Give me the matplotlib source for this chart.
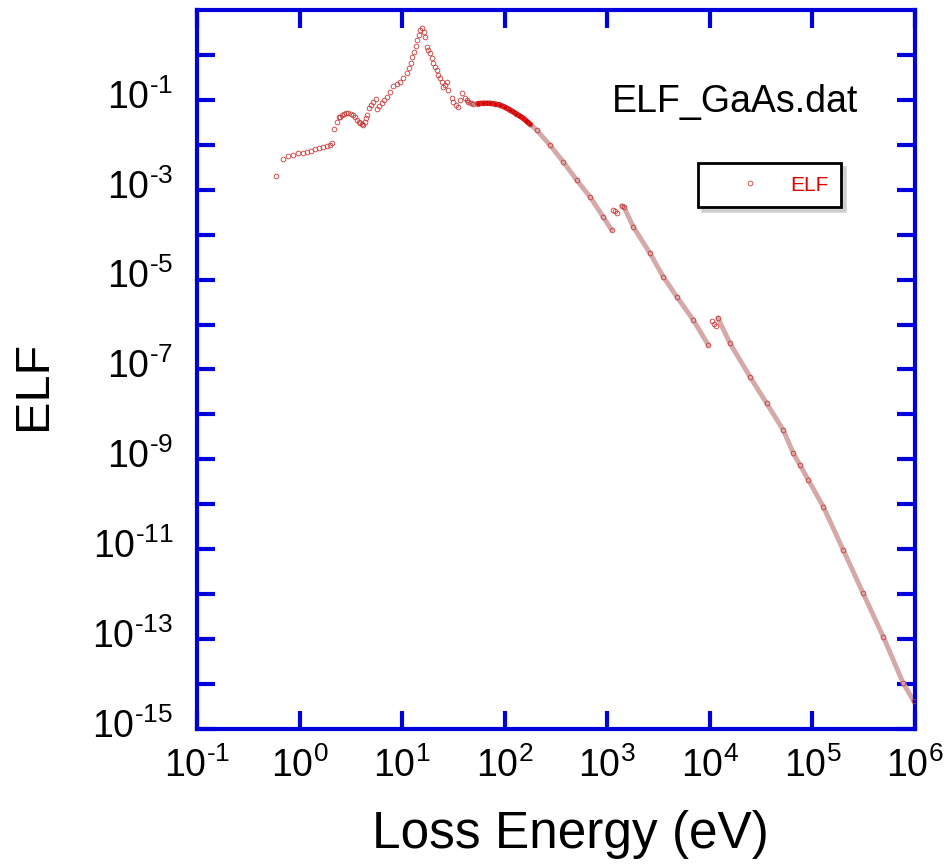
import numpy as np
import matplotlib
matplotlib.use("Agg")
import matplotlib.pyplot as plt
import matplotlib.transforms as mtransforms
from matplotlib.ticker import FixedLocator, FuncFormatter, NullLocator

plt.rcParams['font.family'] = ['Liberation Sans', 'DejaVu Sans']
plt.rcParams['mathtext.fontset'] = 'custom'
plt.rcParams['mathtext.rm'] = 'Liberation Sans'
plt.rcParams['axes.unicode_minus'] = False

# ---- data (loss energy in eV, ELF) ----
E_low = [0.589, 0.686, 0.776, 0.869, 0.972, 1.07, 1.17, 1.28, 1.41, 1.56, 1.70, 1.84,
         1.98, 2.07, 2.17, 2.30, 2.40, 2.48, 2.59, 2.71, 2.84, 2.99, 3.15, 3.30, 3.44,
         3.60, 3.77, 3.88, 4.03, 4.18, 4.34, 4.44, 4.57, 4.79, 5.01, 5.24, 5.52]
ELF_low = [2.06e-3, 4.77e-3, 5.64e-3, 6.03e-3, 6.5e-3, 6.7e-3, 7.0e-3, 7.4e-3, 7.9e-3,
           8.4e-3, 8.8e-3, 9.4e-3, 1.0e-2, 1.11e-2, 2.2e-2, 3.27e-2, 4.09e-2, 4.23e-2,
           4.61e-2, 4.78e-2, 5.02e-2, 5.1e-2, 4.93e-2, 4.6e-2, 4.09e-2, 3.57e-2, 3.22e-2,
           3.01e-2, 2.85e-2, 2.76e-2, 3.27e-2, 3.89e-2, 4.61e-2, 6.5e-2, 7.69e-2, 9.1e-2,
           0.103]

E_mid = [5.65, 5.98, 6.32, 6.65, 7.07, 7.62, 8.20, 8.85, 9.53, 10.3, 11.07, 11.6, 12.1,
         12.6, 13.05, 13.6, 14.06, 14.5, 14.94, 15.73, 16.2, 16.7, 17.35, 18.0, 18.7,
         19.4, 20.1, 20.9, 21.7, 22.5, 23.4, 24.3, 24.8, 26.2, 27.2, 28.2, 30.4, 31.5,
         33.5, 35.3, 36.6, 38.1, 41.0, 42.6, 44.2, 46.6, 49.5, 55.0, 62.0, 71.9, 80.0,
         90.0, 100.0, 113.0, 130.0, 152.0, 176.0, 205.0, 276.0, 372.0, 503.0, 678.0,
         914.0, 1104.0]
ELF_mid = [0.0617, 0.0731, 0.084, 0.0993, 0.118, 0.152, 0.204, 0.225, 0.254, 0.302, 0.39,
           0.505, 0.652, 0.885, 1.18, 1.58, 2.15, 2.78, 3.59, 3.92, 3.29, 2.55, 1.52,
           1.29, 1.09, 0.841, 0.652, 0.547, 0.46, 0.358, 0.302, 0.254, 0.196, 0.214,
           0.254, 0.166, 0.108, 0.0912, 0.0769, 0.068, 0.0993, 0.14, 0.108, 0.0993,
           0.091, 0.0839, 0.081, 0.083, 0.084, 0.084, 0.081, 0.077, 0.069, 0.0596, 0.049,
           0.0389, 0.029, 0.0214, 9.9e-3, 4.2e-3, 1.65e-3, 7.0e-4, 2.5e-4, 1.27e-4]

E_L = [1150, 1200, 1250, 1380, 1450, 1794, 2612, 3518, 4753, 6904, 9670]
ELF_L = [3.6e-4, 3.3e-4, 3.0e-4, 4.4e-4, 4.2e-4, 1.5e-4, 3.85e-5, 1.16e-5, 4.2e-6,
         1.26e-6, 3.5e-7]

E_K = [10400, 10900, 11400, 12000, 15720, 24630, 35800, 52000, 65200, 75600, 91200,
       127700, 200000, 313000, 491000, 769000, 977000]
ELF_K = [1.2e-6, 1.05e-6, 9.5e-7, 1.4e-6, 3.83e-7, 6.9e-8, 1.77e-8, 4.5e-9, 1.36e-9,
         7.5e-10, 3.5e-10, 8.9e-11, 9.6e-12, 1.04e-12, 1.13e-13, 1.04e-14, 4.1e-15]

x_exponents = [-1, 0, 1, 2, 3, 4, 5, 6]
y_exponents = list(range(-15, 1))
y_label_exponents = [-1, -3, -5, -7, -9, -11, -13, -15]

AXIS_BLUE = '#0000dd'
MARK = '#c83a3a'
BAND = '#d6a9a9'


def dec_label(v):
    e = int(round(np.log10(v)))
    s = str(e).replace('-', '\u2010')
    return r'$\mathregular{10^{%s}}$' % s


fig = plt.figure(figsize=(9.51, 8.64), dpi=100)
ax = fig.add_axes([0.2071, 0.1563, 0.7550, 0.8321])

# continuous bands (the reference's markers overlap into solid bands)
Em = np.array(E_mid)
Fm = np.array(ELF_mid)
band = Em >= 44
ax.plot(Em[band], Fm[band], color=BAND, lw=3.5, solid_capstyle='round', zorder=2)
red = (Em >= 55) & (Em <= 180)
ax.plot(Em[red], Fm[red], color='#e00000', lw=3.8, solid_capstyle='round', zorder=3)
ax.plot(E_L[3:], ELF_L[3:], color=BAND, lw=3.5, solid_capstyle='round', zorder=2)
ax.plot(E_K[3:], ELF_K[3:], color=BAND, lw=3.5, solid_capstyle='round', zorder=2)

mk = dict(ls='none', marker='o', ms=3.4, mfc='none', mec=MARK, mew=0.6, zorder=4)
ax.plot(E_low, ELF_low, **mk)
ax.plot(E_mid, ELF_mid, **mk)
ax.plot(E_L, ELF_L, **mk)
ax.plot(E_K, ELF_K, label='ELF', **mk)

ax.set_xscale('log')
ax.set_yscale('log')
ax.set_xlim(1e-1, 1e6)
ax.set_ylim(1e-15, 1e1)

ax.xaxis.set_major_locator(FixedLocator([10.0 ** e for e in x_exponents]))
ax.xaxis.set_minor_locator(NullLocator())
ax.yaxis.set_major_locator(FixedLocator([10.0 ** e for e in y_exponents]))
ax.yaxis.set_minor_locator(NullLocator())
ax.xaxis.set_major_formatter(FuncFormatter(lambda v, p: dec_label(v)))
ax.yaxis.set_major_formatter(FuncFormatter(
    lambda v, p: dec_label(v) if int(round(np.log10(v))) in y_label_exponents else ''))

for s in ax.spines.values():
    s.set_color(AXIS_BLUE)
    s.set_linewidth(3)
ax.tick_params(which='major', direction='in', length=13, width=3, color=AXIS_BLUE,
               top=True, right=True, labelsize=27, labelcolor='black')
ax.tick_params(axis='x', pad=13)
ax.tick_params(axis='y', pad=17)

# y tick labels sit slightly above their ticks in the reference
up = mtransforms.ScaledTranslation(0, 6 / 100.0, fig.dpi_scale_trans)
for lab in ax.get_yticklabels():
    lab.set_transform(lab.get_transform() + up)

ax.set_xlabel('Loss Energy (eV)', fontsize=37, labelpad=18)
ax.xaxis.label.set_x(0.5195)
ax.set_ylabel('ELF', fontsize=35)
ax.yaxis.set_label_coords(-0.197, 0.478)

ax.text(0.9206, 0.858, 'ELF_GaAs.dat', transform=ax.transAxes, ha='right',
        va='baseline', fontsize=27)

leg = ax.legend(loc='upper left', bbox_to_anchor=(0.698, 0.787), fontsize=15,
                frameon=True, fancybox=False, framealpha=1.0, borderpad=0.6,
                handlelength=3.8, handletextpad=0.0, borderaxespad=0.0,
                markerscale=1.0,
                shadow={'color': '0.75', 'alpha': 0.6, 'ox': 3, 'oy': -3})
leg.get_frame().set_edgecolor('black')
leg.get_frame().set_linewidth(2)
for t in leg.get_texts():
    t.set_color('#e00000')

fig.savefig('out.png', dpi=100)
